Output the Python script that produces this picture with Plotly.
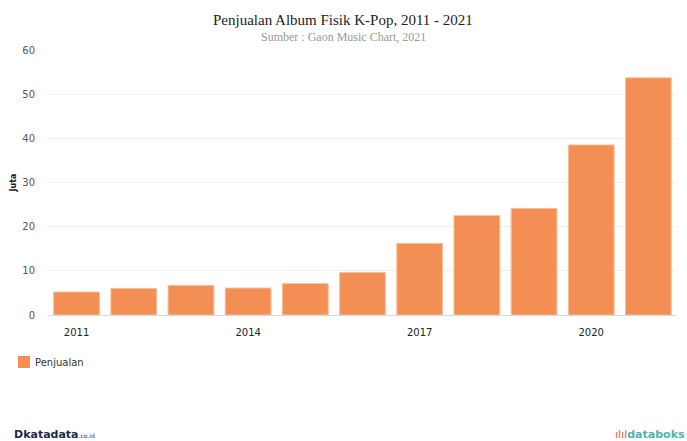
import plotly.graph_objects as go

years = [2011, 2012, 2013, 2014, 2015, 2016, 2017, 2018, 2019, 2020, 2021]
sales = [5.2, 6.0, 6.7, 6.1, 7.1, 9.6, 16.2, 22.5, 24.1, 38.5, 53.7]
tick_years = [2011, 2014, 2017, 2020]
y_ticks = [0, 10, 20, 30, 40, 50, 60]
bar_color = "rgba(242,132,70,0.92)"

W, H = 687, 441
L, R, T, B = 48, 10, 50, 126
pw, ph = W - L - R, H - T - B

def px_x(x):
    return (x - L) / pw

def px_y(y):
    return (H - B - y) / ph

fig = go.Figure()
fig.add_trace(go.Bar(
    x=[str(y) for y in years], y=sales, name="Penjualan",
    marker=dict(color=bar_color, line=dict(color="rgba(250,190,150,1)", width=1)),
    showlegend=False,
))

fig.update_layout(
    width=W, height=H,
    margin=dict(l=L, r=R, t=T, b=B),
    paper_bgcolor="white", plot_bgcolor="white",
    bargap=0.2,
    font=dict(family="DejaVu Sans", size=10, color="#333"),
    xaxis=dict(
        type="category",
        tickmode="array", tickvals=[str(y) for y in tick_years], ticktext=[str(y) for y in tick_years],
        showline=True, linecolor="#d8d8d8", linewidth=1,
        showgrid=False, ticks="outside", ticklen=8, tickcolor="rgba(0,0,0,0)",
        tickfont=dict(family="DejaVu Sans", size=10, color="#222"),
        range=[-0.5, 10.5],
    ),
    yaxis=dict(
        range=[0, 60], tickvals=y_ticks,
        showgrid=True, gridcolor="#efefef", gridwidth=1,
        zeroline=False, showline=False,
        ticks="outside", ticklen=10, tickcolor="rgba(0,0,0,0)",
        tickfont=dict(family="DejaVu Sans", size=10, color="#555"),
        title=dict(text="<b>Juta</b>", font=dict(family="DejaVu Sans", size=8, color="#222"), standoff=4),
    ),
    showlegend=False,
)

# legend (manual, to match the compact swatch layout)
fig.add_shape(type="rect", xref="paper", yref="paper",
              x0=px_x(18), x1=px_x(30), y0=px_y(368), y1=px_y(356),
              fillcolor=bar_color, line=dict(width=0))
fig.add_annotation(text="Penjualan", xref="paper", yref="paper",
                   x=px_x(33), y=px_y(362), xanchor="left", yanchor="middle", showarrow=False,
                   font=dict(family="DejaVu Sans", size=10, color="#333"))

fig.add_annotation(text="Penjualan Album Fisik K-Pop, 2011 - 2021", xref="paper", yref="paper",
                   x=px_x(343), y=px_y(20), xanchor="center", yanchor="middle", showarrow=False,
                   font=dict(family="Liberation Serif", size=15, color="#222"))
fig.add_annotation(text="Sumber : Gaon Music Chart, 2021", xref="paper", yref="paper",
                   x=px_x(343), y=px_y(37), xanchor="center", yanchor="middle", showarrow=False,
                   font=dict(family="Liberation Serif", size=12, color="#999"))
fig.add_annotation(text="<b>D</b><b>katadata</b><span style='font-size:6px'>.co.id</span>",
                   xref="paper", yref="paper", x=px_x(12), y=px_y(434),
                   xanchor="left", yanchor="middle", showarrow=False,
                   font=dict(family="DejaVu Sans", size=11, color="#1c2a4a"))
fig.add_annotation(text="<span style='color:#f05a3a'>ılıl</span><b>databoks</b>",
                   xref="paper", yref="paper", x=px_x(687), y=px_y(434),
                   xanchor="right", yanchor="middle", showarrow=False,
                   font=dict(family="DejaVu Sans", size=11, color="#4fb3b0"))

fig.write_html("out.html")
